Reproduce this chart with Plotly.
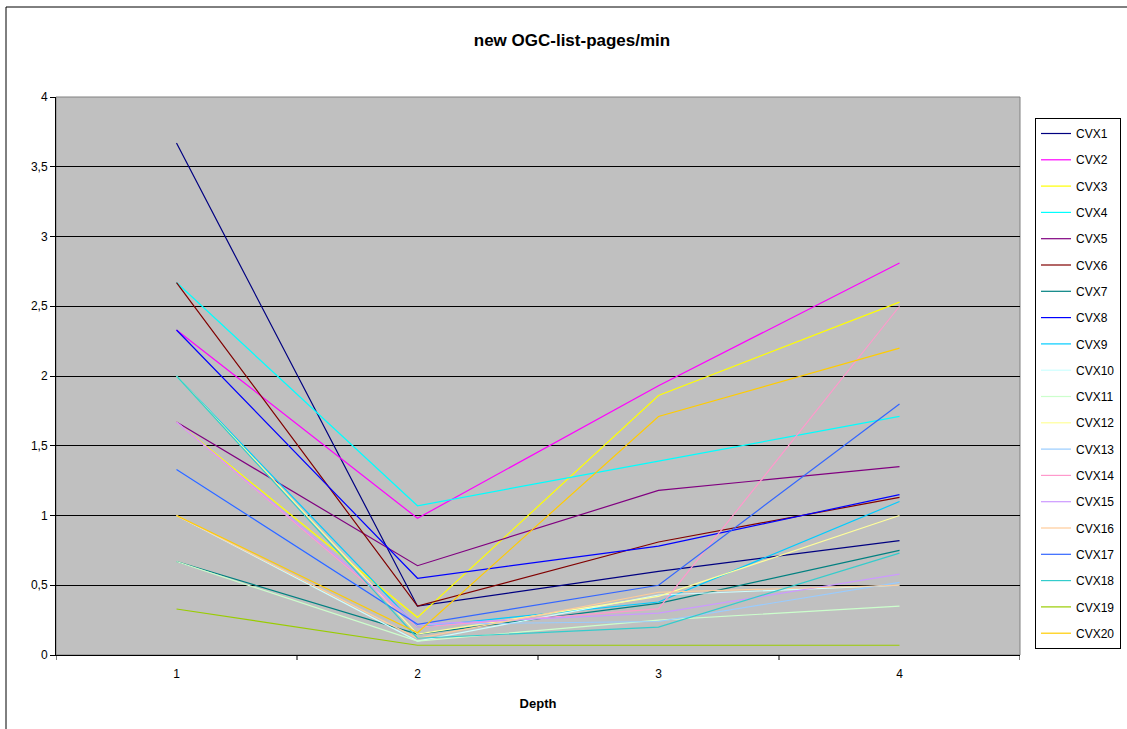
import plotly.graph_objects as go

# Category axis: depth levels
depths = ["1", "2", "3", "4"]

# Pages per minute for each CVX host at each depth
series_names = [f"CVX{i}" for i in range(1, 21)]
cvx1 = [3.67, 0.35, 0.60, 0.82]
cvx2 = [2.33, 0.98, 1.93, 2.81]
cvx3 = [1.67, 0.27, 1.86, 2.53]
cvx4 = [2.67, 1.07, 1.39, 1.71]
cvx5 = [1.67, 0.64, 1.18, 1.35]
cvx6 = [2.67, 0.35, 0.81, 1.13]
cvx7 = [0.67, 0.15, 0.37, 0.75]
cvx8 = [2.33, 0.55, 0.78, 1.15]
cvx9 = [2.00, 0.20, 0.38, 1.10]
cvx10 = [1.00, 0.10, 0.43, 0.50]
cvx11 = [0.67, 0.10, 0.25, 0.35]
cvx12 = [2.00, 0.15, 0.42, 1.00]
cvx13 = [1.33, 0.22, 0.24, 0.52]
cvx14 = [1.67, 0.20, 0.33, 2.50]
cvx15 = [1.67, 0.22, 0.30, 0.58]
cvx16 = [1.00, 0.12, 0.45, 0.50]
cvx17 = [1.33, 0.22, 0.50, 1.80]
cvx18 = [2.00, 0.12, 0.20, 0.73]
cvx19 = [0.33, 0.07, 0.07, 0.07]
cvx20 = [1.00, 0.16, 1.71, 2.20]

series_values = [cvx1, cvx2, cvx3, cvx4, cvx5, cvx6, cvx7, cvx8, cvx9, cvx10,
                 cvx11, cvx12, cvx13, cvx14, cvx15, cvx16, cvx17, cvx18, cvx19, cvx20]

colors = ["#000080", "#FF00FF", "#FFFF00", "#00FFFF", "#800080", "#800000",
          "#008080", "#0000FF", "#00CCFF", "#CCFFFF", "#CCFFCC", "#FFFF99",
          "#99CCFF", "#FF99CC", "#CC99FF", "#FFCC99", "#3366FF", "#33CCCC",
          "#99CC00", "#FFCC00"]

y_ticks = [0, 0.5, 1, 1.5, 2, 2.5, 3, 3.5, 4]

fig = go.Figure()
for name, vals, col in zip(series_names, series_values, colors):
    fig.add_trace(go.Scatter(
        x=[0, 1, 2, 3], y=vals, mode="lines", name=name,
        legendgroup=name,
        line=dict(color=col, width=1.2),
    ))

W, H = 1127, 729
L, R, T, B = 56, 107, 97, 74
pw, ph = W - L - R, H - T - B

def px_x(p):
    return (p - L) / pw

def px_y(p):
    return (H - B - p) / ph

fig.update_layout(
    width=W, height=H,
    margin=dict(l=L, r=R, t=T, b=B, autoexpand=False),
    paper_bgcolor="white",
    plot_bgcolor="#C0C0C0",
    font=dict(family="Liberation Sans, Arial, sans-serif", size=12, color="black"),
    separators=", ",
    title=dict(text="<b>new OGC-list-pages/min</b>", xref="container",
               x=572 / W, xanchor="center",
               y=1 - 40 / H, yanchor="middle", font=dict(size=17)),
    showlegend=True,
    legend=dict(
        x=px_x(1035), xanchor="left", y=px_y(118), yanchor="top",
        bgcolor="white", bordercolor="black", borderwidth=1,
        traceorder="grouped", tracegroupgap=7.3,
        font=dict(size=12),
    ),
    xaxis=dict(
        range=[-0.5, 3.5],
        tickvals=[0, 1, 2, 3], ticktext=depths,
        showgrid=False, zeroline=False,
        showline=True, linecolor="black", linewidth=1,
        ticks="outside", ticklen=8, tickcolor="rgba(0,0,0,0)",
        title=dict(text="<b>Depth</b>", font=dict(size=13), standoff=18),
        mirror=False,
    ),
    yaxis=dict(
        range=[0, 4],
        tickvals=y_ticks,
        tickformat=".1~f",
        showgrid=True, gridcolor="black", gridwidth=1,
        zeroline=False,
        showline=True, linecolor="black", linewidth=1,
        ticks="outside", ticklen=5, tickcolor="black",
    ),
)

# Category boundary tick marks below the x axis
for b in [-0.5, 0.5, 1.5, 2.5, 3.5]:
    fig.add_shape(type="line", xref="x", yref="paper", x0=b, x1=b,
                  y0=0, y1=-5 / ph, line=dict(color="black", width=1))

# Plot-area frame and outer chart border
fig.add_shape(type="rect", xref="paper", yref="paper", x0=0, x1=1, y0=0, y1=1,
              line=dict(color="#808080", width=1), layer="below")
fig.add_shape(type="rect", xref="paper", yref="paper",
              x0=px_x(6), x1=px_x(1135), y0=px_y(740), y1=px_y(7),
              line=dict(color="black", width=1))

fig.write_html("out.html")
